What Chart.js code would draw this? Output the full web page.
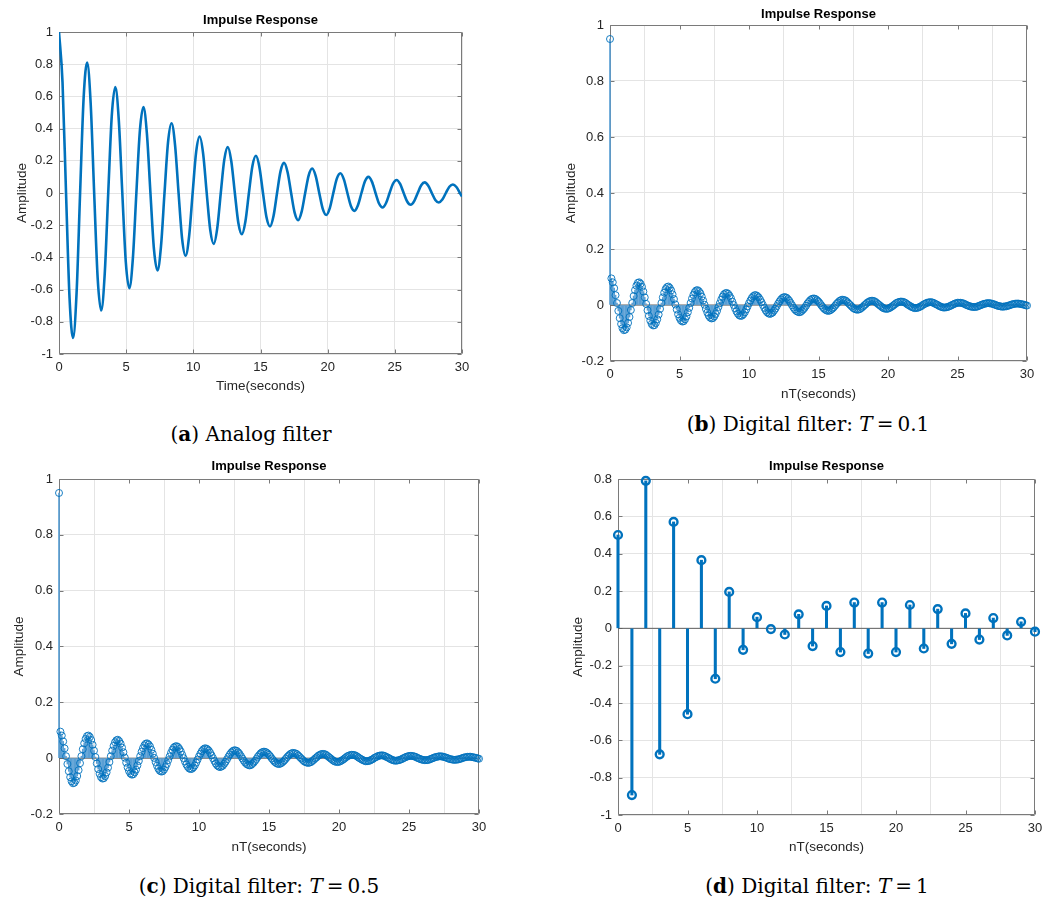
<!DOCTYPE html>
<html>
<head>
<meta charset="utf-8">
<script src="https://cdn.jsdelivr.net/npm/chart.js@4.4.1/dist/chart.umd.min.js"></script>
<style>
html,body{margin:0;padding:0;background:#fff;width:1063px;height:900px;overflow:hidden;position:relative;}
canvas{position:absolute;}
.cap{position:absolute;font-family:"DejaVu Serif",serif;font-size:20px;color:#000;white-space:nowrap;transform:translateX(-50%);line-height:24px;height:24px;}
.cap b{font-weight:bold;}
</style>
</head>
<body>
<div class="cap" style="left:251px;top:422px">(<b>a</b>) Analog filter</div>
<div class="cap" style="left:808px;top:412px">(<b>b</b>) Digital filter: <i>T</i>&#8201;=&#8201;0.1</div>
<div class="cap" style="left:259px;top:874px">(<b>c</b>) Digital filter: <i>T</i>&#8201;=&#8201;0.5</div>
<div class="cap" style="left:817px;top:874px">(<b>d</b>) Digital filter: <i>T</i>&#8201;=&#8201;1</div>
<script>
// ---------------- data ----------------
const xTickValues = [0, 5, 10, 15, 20, 25, 30];
const xTickLabels = ['0', '5', '10', '15', '20', '25', '30'];

const yTicksA = [-1, -0.8, -0.6, -0.4, -0.2, 0, 0.2, 0.4, 0.6, 0.8, 1];
const yTickLabelsA = ['-1', '-0.8', '-0.6', '-0.4', '-0.2', '0', '0.2', '0.4', '0.6', '0.8', '1'];
const yTicksBC = [-0.2, 0, 0.2, 0.4, 0.6, 0.8, 1];
const yTickLabelsBC = ['-0.2', '0', '0.2', '0.4', '0.6', '0.8', '1'];
const yTicksD = [-1, -0.8, -0.6, -0.4, -0.2, 0, 0.2, 0.4, 0.6, 0.8];
const yTickLabelsD = ['-1', '-0.8', '-0.6', '-0.4', '-0.2', '0', '0.2', '0.4', '0.6', '0.8'];

// (a) analog impulse response, read every 0.2618 s (peaks, zero crossings and the points between)
const analogStep = 0.2618;
const analogAmplitude = [
  1, 0.689, 0, -0.654, -0.901, -0.620, 0, 0.589,
  0.811, 0.559, 0, -0.530, -0.730, -0.503, 0, 0.477,
  0.658, 0.453, 0, -0.430, -0.592, -0.408, 0, 0.387,
  0.534, 0.367, 0, -0.349, -0.481, -0.331, 0, 0.314,
  0.433, 0.298, 0, -0.283, -0.390, -0.268, 0, 0.255,
  0.351, 0.242, 0, -0.229, -0.316, -0.218, 0, 0.207,
  0.285, 0.196, 0, -0.186, -0.256, -0.177, 0, 0.168,
  0.231, 0.159, 0, -0.151, -0.208, -0.143, 0, 0.136,
  0.187, 0.129, 0, -0.122, -0.169, -0.116, 0, 0.110,
  0.152, 0.105, 0, -0.099, -0.137, -0.094, 0, 0.089,
  0.123, 0.085, 0, -0.081, -0.111, -0.076, 0, 0.073,
  0.100, 0.069, 0, -0.065, -0.090, -0.062, 0, 0.059,
  0.081, 0.056, 0, -0.053, -0.073, -0.050, 0, 0.048,
  0.066, 0.045, 0, -0.043, -0.059, -0.041, 0, 0.039,
  0.053, 0.037, 0
];
const analogLastTime = 30;
const analogLastAmplitude = -0.022;

// (b) digital filter T = 0.1, samples every 0.1 s
const digitalStep = 0.1;
const digitalAmplitudeB = [
  0.95,
  0.095, 0.081, 0.060, 0.035, 0.007, -0.021, -0.047, -0.068, -0.083, -0.090,
  -0.088, -0.080, -0.064, -0.043, -0.018, 0.007, 0.032, 0.053, 0.069, 0.079,
  0.081, 0.076, 0.065, 0.048, 0.027, 0.004, -0.019, -0.039, -0.056, -0.068, -0.073,
  -0.072, -0.064, -0.051, -0.034, -0.014, 0.007, 0.027, 0.044, 0.057, 0.064,
  0.066, 0.061, 0.052, 0.038, 0.021, 0.002, -0.016, -0.033, -0.046, -0.055, -0.059,
  -0.058, -0.051, -0.041, -0.026, -0.010, 0.007, 0.023, 0.036, 0.046, 0.052,
  0.053, 0.049, 0.042, 0.030, 0.016, 0.001, -0.014, -0.027, -0.038, -0.045, -0.048,
  -0.047, -0.041, -0.032, -0.021, -0.007, 0.006, 0.019, 0.030, 0.038, 0.042,
  0.043, 0.040, 0.033, 0.024, 0.012, 0.000, -0.012, -0.023, -0.031, -0.037, -0.039,
  -0.038, -0.033, -0.026, -0.016, -0.005, 0.006, 0.016, 0.025, 0.031, 0.035,
  0.035, 0.032, 0.027, 0.019, 0.010, 0.000, -0.010, -0.019, -0.026, -0.030, -0.032,
  -0.030, -0.027, -0.020, -0.013, -0.004, 0.005, 0.013, 0.020, 0.025, 0.028,
  0.028, 0.026, 0.021, 0.015, 0.007, -0.001, -0.009, -0.016, -0.021, -0.024, -0.026,
  -0.025, -0.021, -0.016, -0.010, -0.003, 0.005, 0.011, 0.017, 0.021, 0.023,
  0.023, 0.021, 0.017, 0.012, 0.006, -0.001, -0.007, -0.013, -0.017, -0.020, -0.021,
  -0.020, -0.017, -0.013, -0.008, -0.002, 0.004, 0.009, 0.014, 0.017, 0.019,
  0.018, 0.017, 0.014, 0.009, 0.004, -0.001, -0.006, -0.011, -0.014, -0.016, -0.017,
  -0.016, -0.014, -0.010, -0.006, -0.001, 0.003, 0.008, 0.011, 0.014, 0.015,
  0.015, 0.014, 0.011, 0.007, 0.003, -0.001, -0.005, -0.009, -0.012, -0.013, -0.014,
  -0.013, -0.011, -0.008, -0.005, -0.001, 0.003, 0.007, 0.009, 0.011, 0.012,
  0.012, 0.011, 0.009, 0.006, 0.002, -0.001, -0.004, -0.007, -0.009, -0.011, -0.011,
  -0.010, -0.009, -0.006, -0.004, 0.000, 0.003, 0.005, 0.008, 0.009, 0.010,
  0.010, 0.009, 0.007, 0.004, 0.002, -0.001, -0.004, -0.006, -0.008, -0.009, -0.009,
  -0.008, -0.007, -0.005, -0.003, 0.000, 0.002, 0.005, 0.006, 0.008, 0.008,
  0.008, 0.007, 0.006, 0.004, 0.001, -0.001, -0.003, -0.005, -0.006, -0.007, -0.007,
  -0.007, -0.006, -0.004, -0.002, 0.000, 0.002, 0.004, 0.005, 0.006, 0.007,
  0.006, 0.006, 0.004, 0.003, 0.001, -0.001, -0.003, -0.004, -0.005, -0.006, -0.006,
  -0.005, -0.005, -0.003, -0.002, 0.000, 0.002, 0.003, 0.004, 0.005, 0.005,
  0.005, 0.004, 0.003, 0.002, 0.001, -0.001, -0.002
];
// (c) the reference shows the same sample sequence as (b)
const digitalAmplitudeC = digitalAmplitudeB;

// (d) digital filter T = 1, samples every 1 s
const stepD = 1;
const digitalAmplitudeD = [
  0.50, -0.893, 0.79, -0.675, 0.57, -0.46, 0.365, -0.27, 0.195, -0.115,
  0.06, -0.004, -0.033, 0.075, -0.095, 0.12, -0.127, 0.138, -0.135, 0.138,
  -0.127, 0.125, -0.108, 0.103, -0.083, 0.08, -0.06, 0.055, -0.038, 0.035, -0.018
];

// ---------------- rendering ----------------
const BLUE = '#0072BD';
const STEM_LIGHT = '#5a9fd4';
const TEXT = '#262626';
const AXIS = '#7a7a7a';
const GRID = '#e4e4e4';
Chart.defaults.font.family = '"Liberation Sans", Arial, Helvetica, sans-serif';
Chart.defaults.color = TEXT;

const PAD_L = 60, PAD_T = 32, PAD_R = 22, PAD_B = 50;

const framePlugin = {
  id: 'matlabFrame',
  beforeDatasetsDraw(chart) {
    const {ctx, chartArea: a, scales} = chart;
    ctx.save();
    ctx.strokeStyle = AXIS;
    ctx.lineWidth = 1;
    const L = Math.round(a.left) + 0.5, R = Math.round(a.right) - 0.5;
    const T = Math.round(a.top) + 0.5, B = Math.round(a.bottom) - 0.5;
    ctx.beginPath();
    ctx.rect(L, T, R - L, B - T);
    const tl = 4;
    scales.x.ticks.forEach(t => {
      const px = Math.round(scales.x.getPixelForValue(t.value)) + 0.5;
      ctx.moveTo(px, B); ctx.lineTo(px, B - tl);
      ctx.moveTo(px, T); ctx.lineTo(px, T + tl);
    });
    scales.y.ticks.forEach(t => {
      const py = Math.round(scales.y.getPixelForValue(t.value)) + 0.5;
      ctx.moveTo(L, py); ctx.lineTo(L + tl, py);
      ctx.moveTo(R, py); ctx.lineTo(R - tl, py);
    });
    ctx.stroke();
    ctx.restore();
  },
  afterDraw(chart, args, opts) {
    const {ctx, chartArea: a} = chart;
    ctx.save();
    ctx.font = 'bold 13px "Liberation Sans", Arial, sans-serif';
    ctx.fillStyle = '#000';
    ctx.textAlign = 'center';
    ctx.textBaseline = 'middle';
    ctx.fillText(opts.text, (a.left + a.right) / 2, a.top - opts.offset);
    ctx.restore();
  }
};

function makePanel(cfg) {
  const w = cfg.R - cfg.L + PAD_L + PAD_R;
  const h = cfg.B - cfg.T + PAD_T + PAD_B;
  const canvas = document.createElement('canvas');
  canvas.width = w; canvas.height = h;
  canvas.style.left = (cfg.L - PAD_L) + 'px';
  canvas.style.top = (cfg.T - PAD_T) + 'px';
  canvas.style.width = w + 'px';
  canvas.style.height = h + 'px';
  document.body.appendChild(canvas);
  new Chart(canvas, {
    type: 'scatter',
    data: {datasets: cfg.datasets},
    plugins: [framePlugin],
    options: {
      responsive: false,
      animation: false,
      devicePixelRatio: 1,
      events: [],
      layout: {padding: {left: 0, top: PAD_T, right: PAD_R, bottom: 0}},
      plugins: {
        legend: {display: false},
        tooltip: {enabled: false},
        matlabFrame: {text: 'Impulse Response', offset: cfg.titleOffset}
      },
      scales: {
        x: {
          type: 'linear', min: 0, max: 30, offset: false,
          afterBuildTicks: s => { s.ticks = xTickValues.map(v => ({value: v})); },
          afterFit: s => { s.height = PAD_B; },
          ticks: {autoSkip: false, maxRotation: 0, padding: 6, font: {size: 13},
                  callback: (v, i) => xTickLabels[i]},
          grid: {color: GRID, lineWidth: 1, drawTicks: false},
          border: {display: false},
          title: {display: true, text: cfg.xTitle, font: {size: 13.5},
                  padding: {top: 0, bottom: cfg.xTitlePad}}
        },
        y: {
          type: 'linear', min: cfg.yMin, max: cfg.yMax,
          afterBuildTicks: s => { s.ticks = cfg.yTicks.map(v => ({value: v})); },
          afterFit: s => { s.width = PAD_L; },
          ticks: {autoSkip: false, padding: 6, font: {size: 13},
                  callback: (v, i) => cfg.yLabels[i]},
          grid: {color: GRID, lineWidth: 1, drawTicks: false},
          border: {display: false},
          title: {display: true, text: 'Amplitude', font: {size: 13.5},
                  padding: {top: cfg.yTitlePad, bottom: 0}}
        }
      }
    }
  });
}

function stemDatasets(values, step, opt) {
  const pts = values.map((v, n) => ({x: n * step, y: v}));
  return [
    {type: 'scatter', data: pts, showLine: false, clip: false,
     pointRadius: opt.r, pointBorderWidth: opt.mw, pointBorderColor: BLUE,
     pointBackgroundColor: 'rgba(0,0,0,0)', pointHoverRadius: opt.r},
    {type: 'bar', data: pts, barThickness: opt.sw, backgroundColor: opt.stemColor,
     borderWidth: 0, clip: false, grouped: false},
    {type: 'line', data: [{x: 0, y: 0}, {x: 30, y: 0}], borderColor: '#5e5e5e',
     borderWidth: 1, pointRadius: 0, fill: false}
  ];
}

const analogPts = analogAmplitude.map((v, j) => ({x: j * analogStep, y: v}));
analogPts.push({x: analogLastTime, y: analogLastAmplitude});

makePanel({L: 59, T: 32, R: 462, B: 354, titleOffset: 12,
  xTitle: 'Time(seconds)', xTitlePad: 10, yTitlePad: 15,
  yMin: -1, yMax: 1, yTicks: yTicksA, yLabels: yTickLabelsA,
  datasets: [{type: 'line', data: analogPts, borderColor: BLUE, borderWidth: 2.6,
              pointRadius: 0, fill: false, cubicInterpolationMode: 'monotone'}]});

makePanel({L: 610, T: 25, R: 1027, B: 361, titleOffset: 11,
  xTitle: 'nT(seconds)', xTitlePad: 9, yTitlePad: 13,
  yMin: -0.2, yMax: 1, yTicks: yTicksBC, yLabels: yTickLabelsBC,
  datasets: stemDatasets(digitalAmplitudeB, digitalStep, {r: 3.5, mw: 0.9, sw: 1, stemColor: STEM_LIGHT})});

makePanel({L: 59, T: 479, R: 479, B: 814, titleOffset: 13,
  xTitle: 'nT(seconds)', xTitlePad: 9, yTitlePad: 12,
  yMin: -0.2, yMax: 1, yTicks: yTicksBC, yLabels: yTickLabelsBC,
  datasets: stemDatasets(digitalAmplitudeC, digitalStep, {r: 3.5, mw: 0.9, sw: 1, stemColor: STEM_LIGHT})});

makePanel({L: 618, T: 479, R: 1035, B: 815, titleOffset: 13,
  xTitle: 'nT(seconds)', xTitlePad: 10, yTitlePad: 12,
  yMin: -1, yMax: 0.8, yTicks: yTicksD, yLabels: yTickLabelsD,
  datasets: stemDatasets(digitalAmplitudeD, stepD, {r: 3.9, mw: 2.4, sw: 2.4, stemColor: BLUE})});
</script>
</body>
</html>
